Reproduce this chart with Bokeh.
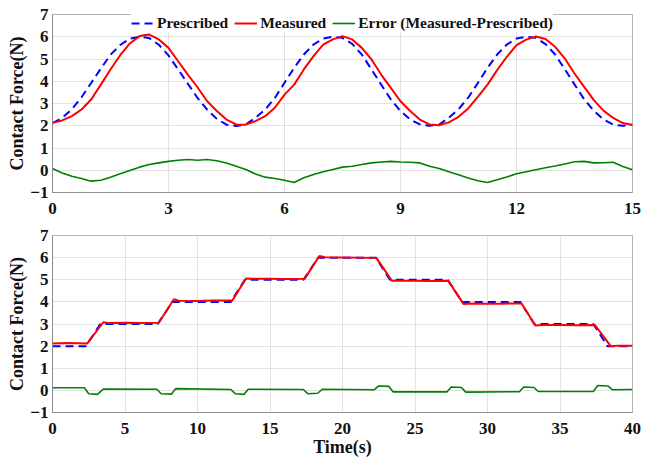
import numpy as np
from bokeh.plotting import figure
from bokeh.layouts import column
from bokeh.models import Legend, LegendItem, FixedTicker
from bokeh.embed import file_html
from bokeh.resources import INLINE

# ---------------- top panel (sinusoidal tracking) ----------------
t_top = np.arange(0, 15.001, 0.25)
prescribed_top = [2.12, 2.35, 2.74, 3.28, 3.92, 4.57, 5.19, 5.63, 5.91, 6.00,
                  5.94, 5.64, 5.16, 4.53, 3.89, 3.25, 2.72, 2.31, 2.05, 1.99,
                  2.06, 2.36, 2.73, 3.25, 3.93, 4.60, 5.20, 5.65, 5.92, 6.00,
                  5.95, 5.68, 5.20, 4.53, 3.85, 3.18, 2.66, 2.28, 2.06, 2.00,
                  2.05, 2.36, 2.74, 3.26, 3.92, 4.60, 5.20, 5.65, 5.92, 6.00,
                  5.95, 5.67, 5.20, 4.54, 3.86, 3.19, 2.67, 2.28, 2.05, 2.00,
                  2.05]
measured_top = [2.13, 2.24, 2.43, 2.73, 3.18, 3.85, 4.53, 5.17, 5.70, 6.03,
                6.10, 5.88, 5.50, 4.90, 4.30, 3.73, 3.10, 2.66, 2.28, 2.06,
                2.05, 2.21, 2.43, 2.81, 3.40, 3.85, 4.53, 5.13, 5.65, 5.88,
                6.03, 5.88, 5.50, 4.98, 4.30, 3.70, 3.10, 2.66, 2.28, 2.06,
                2.02, 2.15, 2.40, 2.78, 3.30, 3.85, 4.50, 5.10, 5.62, 5.87,
                6.01, 5.90, 5.55, 5.02, 4.35, 3.75, 3.15, 2.68, 2.35, 2.12,
                2.03]
error_top = [0.08, -0.12, -0.27, -0.37, -0.49, -0.45, -0.31, -0.16, -0.01, 0.14,
             0.26, 0.33, 0.40, 0.45, 0.48, 0.45, 0.48, 0.43, 0.33, 0.18,
             0.03, -0.17, -0.31, -0.37, -0.45, -0.55, -0.34, -0.19, -0.07, 0.03,
             0.14, 0.18, 0.26, 0.33, 0.37, 0.40, 0.37, 0.36, 0.33, 0.18,
             0.08, -0.07, -0.20, -0.35, -0.47, -0.55, -0.43, -0.30, -0.16, -0.07,
             0.02, 0.11, 0.19, 0.28, 0.38, 0.40, 0.33, 0.34, 0.36, 0.17,
             0.02]
xticks_top = [0, 3, 6, 9, 12, 15]

# ---------------- bottom panel (staircase tracking) ----------------
t_pres_bot = [0, 2.3, 3.3, 7.25, 8.28, 12.3, 13.27, 17.3, 18.33, 22.3, 23.27,
              27.25, 28.25, 32.27, 33.23, 37.3, 38.27, 40]
prescribed_bot = [2, 2, 3, 3, 4, 4, 5, 5, 6, 6, 5, 5, 4, 4, 3, 3, 2, 2]

t_meas_bot = [0, 1, 2.4, 3.5, 3.8, 5, 6, 7.33, 8.37, 8.7, 10, 11, 12.4, 13.35,
              13.7, 15, 16, 17.4, 18.4, 18.8, 20, 21, 22.35, 23.4, 23.8, 25, 26,
              27.3, 28.35, 28.8, 30, 31, 32.35, 33.3, 33.8, 35, 36, 37.4, 38.5,
              39, 40]
measured_bot = [2.12, 2.14, 2.12, 3.08, 3.05, 3.06, 3.04, 3.06, 4.12, 4.05,
                4.04, 4.06, 4.06, 5.06, 5.04, 5.05, 5.03, 5.05, 6.07, 6.02,
                6.01, 6.00, 5.98, 4.96, 4.95, 4.96, 4.94, 4.95, 3.90, 3.93,
                3.92, 3.92, 3.93, 2.93, 2.95, 2.96, 2.94, 2.96, 2.00, 2.02,
                2.02]

t_err_bot = [0, 2.2, 2.5, 3.1, 3.5, 7.2, 7.5, 8.2, 8.5, 12.3, 12.6, 13.2, 13.5,
             17.3, 17.6, 18.3, 18.6, 22.2, 22.5, 23.2, 23.5, 27.2, 27.5, 28.2,
             28.5, 32.2, 32.5, 33.2, 33.5, 37.3, 37.6, 38.3, 38.6, 40]
error_bot = [0.12, 0.12, -0.15, -0.18, 0.06, 0.05, -0.15, -0.17, 0.08, 0.04,
             -0.15, -0.18, 0.05, 0.04, -0.15, -0.13, 0.05, 0.03, 0.20, 0.18,
             -0.07, -0.07, 0.15, 0.13, -0.08, -0.06, 0.15, 0.13, -0.05, -0.05,
             0.22, 0.20, 0.03, 0.04]
xticks_bot = [0, 5, 10, 15, 20, 25, 30, 35, 40]
yticks = [-1, 0, 1, 2, 3, 4, 5, 6, 7]

FONT = "Liberation Serif"
BLUE, RED, GREEN = "#0000ff", "#ff0000", "#008000"


def style(p, xticks):
    p.xaxis.ticker = FixedTicker(ticks=xticks)
    p.yaxis.ticker = FixedTicker(ticks=yticks)
    for ax in (p.xaxis, p.yaxis):
        ax.major_label_text_font = FONT
        ax.major_label_text_font_style = "bold"
        ax.major_label_text_font_size = "17px"
        ax.major_label_text_color = "#111111"
        ax.axis_line_color = "#8c8c8c"
        ax.major_tick_line_color = None
        ax.minor_tick_line_color = None
        ax.major_tick_out = 0
        ax.major_tick_in = 0
        ax.minor_tick_out = 0
        ax.minor_tick_in = 0
        ax.axis_label_text_font = FONT
        ax.axis_label_text_font_style = "bold"
        ax.axis_label_text_font_size = "18px"
        ax.axis_label_text_color = "#111111"
    p.xaxis.major_label_standoff = 10
    p.yaxis.major_label_standoff = 4
    p.yaxis.axis_label = "Contact Force(N)"
    p.yaxis.axis_label_standoff = 0
    p.xgrid.grid_line_color = "#e2e2e2"
    p.ygrid.grid_line_color = "#e2e2e2"
    p.outline_line_color = "#b5b5b5"
    p.background_fill_color = "white"


p1 = figure(width=653, height=222, x_range=(0, 15), y_range=(-1, 7),
            output_backend="svg", toolbar_location=None,
            min_border_left=52, min_border_right=21, min_border_top=14,
            min_border_bottom=30)
style(p1, xticks_top)
r_p = p1.line(t_top, prescribed_top, line_color=BLUE, line_width=2, line_dash="8 5")
r_m = p1.line(t_top, measured_top, line_color=RED, line_width=2)
r_e = p1.line(t_top, error_top, line_color=GREEN, line_width=1.6)

legend = Legend(items=[LegendItem(label="Prescribed", renderers=[r_p]),
                       LegendItem(label="Measured", renderers=[r_m]),
                       LegendItem(label="Error (Measured-Prescribed)", renderers=[r_e])],
                orientation="horizontal", location="top_center",
                label_text_font=FONT, label_text_font_style="bold",
                label_text_font_size="15.5px", label_text_color="#111111",
                glyph_width=23, glyph_height=14, label_standoff=3, spacing=6,
                padding=2, margin=0, border_line_color=None,
                background_fill_color="white", background_fill_alpha=1.0)
p1.add_layout(legend, "center")

p2 = figure(width=653, height=239, x_range=(0, 40), y_range=(-1, 7),
            output_backend="svg", toolbar_location=None,
            min_border_left=52, min_border_right=21, min_border_top=13,
            min_border_bottom=49)
style(p2, xticks_bot)
p2.xaxis.axis_label = "Time(s)"
p2.xaxis.axis_label_standoff = 0
p2.line(t_pres_bot, prescribed_bot, line_color=BLUE, line_width=2, line_dash="8 5")
p2.line(t_meas_bot, measured_bot, line_color=RED, line_width=2)
p2.line(t_err_bot, error_bot, line_color=GREEN, line_width=1.6)

layout = column(p1, p2)
open("out.html", "w").write(file_html(layout, INLINE))
